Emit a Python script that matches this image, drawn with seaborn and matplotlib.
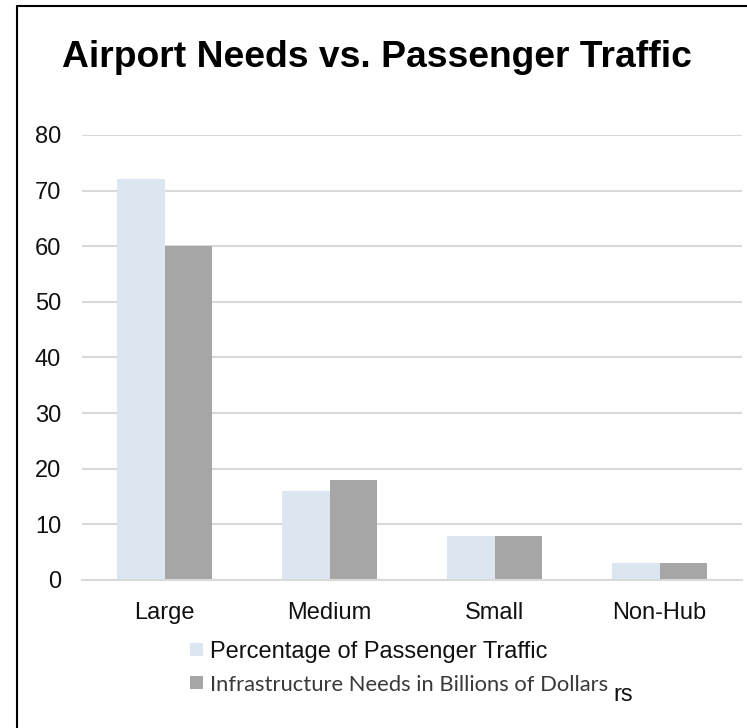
import matplotlib
matplotlib.use("Agg")
import matplotlib.pyplot as plt
import seaborn as sns
import pandas as pd
from matplotlib.lines import Line2D

categories = ["Large", "Medium", "Small", "Non-Hub"]
series_names = ["Percentage of Passenger Traffic", "Infrastructure Needs in Billions of Dollars"]
traffic_pct = [72, 16, 8, 3]
infra_billions = [60, 18, 8, 3]
y_ticks = [0, 10, 20, 30, 40, 50, 60, 70, 80]
title = "Airport Needs vs. Passenger Traffic"

df = pd.DataFrame({
    "Category": categories * 2,
    "Series": [series_names[0]] * len(categories) + [series_names[1]] * len(categories),
    "Value": traffic_pct + infra_billions,
})

sns.set_theme(style="white")
plt.rcParams["font.family"] = ["Liberation Sans", "DejaVu Sans"]

W, H = 747, 728
fig = plt.figure(figsize=(W / 100, H / 100), dpi=100)
ax = fig.add_axes([82 / W, 1 - 580 / H, 660 / W, 445 / H])

sns.barplot(data=df, x="Category", y="Value", hue="Series", order=categories,
            hue_order=series_names, palette=["#DCE6F1", "#A6A6A6"],
            width=0.58, ax=ax, saturation=1, linewidth=0, errorbar=None)

ax.set_ylim(0, 80)
ax.set_yticks(y_ticks)
ax.set_xlim(-0.5, len(categories) - 0.5)
ax.yaxis.grid(True, color="#D9D9D9", linewidth=1.5)
ax.set_axisbelow(True)
for s in ["top", "right", "left"]:
    ax.spines[s].set_visible(False)
ax.spines["bottom"].set_color("#D9D9D9")
ax.spines["bottom"].set_linewidth(1.5)
ax.tick_params(axis="y", length=0, pad=15, labelsize=17, labelcolor="#111111")
ax.tick_params(axis="x", length=0, pad=16, labelsize=17, labelcolor="#111111")
ax.set_xlabel("")
ax.set_ylabel("")

leg = ax.legend(loc="upper left", bbox_to_anchor=(190 / W, 1 - 641 / H),
                bbox_transform=fig.transFigure, frameon=False, ncol=1,
                handlelength=0.55, handleheight=0.5, handletextpad=0.3,
                labelspacing=0.5, fontsize=17, borderaxespad=0, borderpad=0)
texts = leg.get_texts()
texts[0].set_color("#111111")
texts[1].set_fontfamily(["Lato", "Liberation Sans", "DejaVu Sans"])
texts[1].set_fontsize(15.8)
texts[1].set_color("#3a3a3a")

fig.text(613 / W, 1 - 701 / H, "rs", fontsize=17, color="#111111", ha="left", va="baseline")

fig.text(62 / W, 1 - 67 / H, title, fontsize=26.8, fontweight="bold",
         ha="left", va="baseline", color="black")

fig.add_artist(Line2D([17 / W, 17 / W], [0, 1 - 6 / H], transform=fig.transFigure,
                      color="black", linewidth=1.5))
fig.add_artist(Line2D([17 / W, 1], [1 - 6 / H, 1 - 6 / H], transform=fig.transFigure,
                      color="black", linewidth=1.5))

fig.savefig("out.png", dpi=100, facecolor="white")
